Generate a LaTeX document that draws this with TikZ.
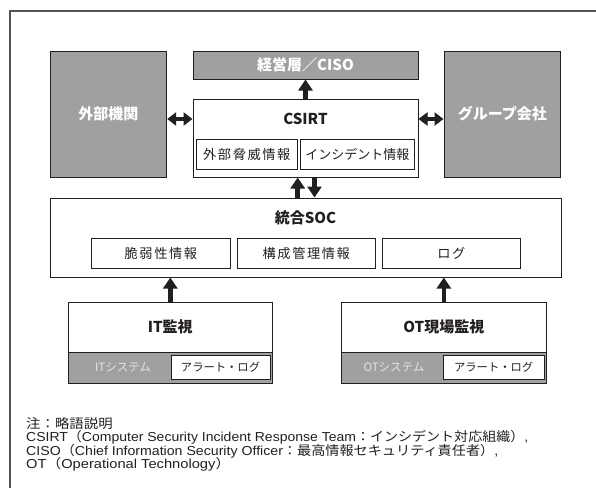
\documentclass[tikz,border=0pt]{standalone}
\usepackage{graphicx}
\usepackage{fontspec}
\setmainfont{Noto Sans CJK JP}
\newfontfamily\jpls[LetterSpace=12]{Noto Sans CJK JP}
\newfontfamily\latf{Liberation Sans}
\newcommand\NoteL[1]{{\latf\fontsize{13}{13}\selectfont #1}}
\newcommand\NoteJ[1]{{\fontsize{13}{13}\selectfont #1}}
\usetikzlibrary{arrows.meta}
\definecolor{ink}{HTML}{231F20}
\definecolor{boxgrey}{HTML}{A0A0A0}
\definecolor{framec}{HTML}{555555}
\definecolor{systxt}{HTML}{E4E4E4}
\tikzset{
  whitebox/.style={draw=ink, line width=1pt, fill=white, inner sep=0pt, rectangle},
  greybox/.style={draw=ink, line width=1pt, fill=boxgrey, inner sep=0pt, rectangle, text=white, font=\bfseries\fontsize{15}{17}\selectfont},
  subbox/.style={draw=ink, line width=0.8pt, fill=white, inner sep=0pt, rectangle, text=ink, font=\jpls\fontsize{13.2}{15}\selectfont},
  subplain/.style={subbox, font=\fontsize{13}{15}\selectfont},
  alertbox/.style={draw=ink, line width=0.8pt, fill=white, inner sep=0pt, rectangle, text=ink, font=\fontsize{11.3}{13}\selectfont},
  titletext/.style={inner sep=0pt, text=ink, font=\bfseries\fontsize{15}{17}\selectfont},
  systext/.style={inner sep=0pt, text=systxt, font=\fontsize{11.5}{13}\selectfont},
  notetext/.style={inner sep=0pt, text=ink},
  bigarrow/.style={draw=ink, line width=4.5pt, -{Triangle[width=14pt,length=11pt]}},
  dblarrow/.style={draw=ink, line width=4.5pt, {Triangle[width=13pt,length=9pt]}-{Triangle[width=13pt,length=9pt]}},
}
\begin{document}
\begin{tikzpicture}[x=1pt,y=-1pt]
\useasboundingbox (0,0) rectangle (596,488);
\draw[framec, line width=1.2pt] (596,11) -- (10,11) -- (10,488);

% top row
\node[greybox, minimum width=116.7pt, minimum height=126pt] (gaibu) at (108.35,114) {外部機関};
\node[greybox, minimum width=225pt, minimum height=28pt] (keiei) at (305.5,65) {経営層／CISO};
\node[whitebox, minimum width=225pt, minimum height=78pt] (csirt) at (305.5,138) {};
\node[titletext] (csirtt) at (305.5,119) {CSIRT};
\node[subbox, minimum width=100.5pt, minimum height=30pt] (threat) at (246.75,154) {外部脅威情報};
\node[subplain, minimum width=114pt, minimum height=30pt] (incid) at (357.3,154) {インシデント情報};
\node[greybox, minimum width=116.7pt, minimum height=126pt] (group) at (502.35,114) {グループ会社};

% SOC
\node[whitebox, minimum width=511pt, minimum height=79pt] (soc) at (305.5,237.5) {};
\node[titletext] (soct) at (305.5,218) {統合SOC};
\node[subbox, minimum width=138.3pt, minimum height=30pt] (vuln) at (160.85,253) {脆弱性情報};
\node[subbox, minimum width=138.5pt, minimum height=30pt] (conf) at (306.25,253) {構成管理情報};
\node[subbox, minimum width=138.7pt, minimum height=30pt] (log) at (451.35,253) {ログ};

% IT
\node[whitebox, minimum width=204pt, minimum height=81pt] (it) at (170.3,342.5) {};
\node[greybox, minimum width=204pt, minimum height=31pt, anchor=south] (itsys) at (it.south) {};
\node[titletext] (itt) at (170.3,327) {IT監視};
\node[systext] (itsyst) at (123,367.3) {ITシステム};
\node[alertbox, minimum width=99pt, minimum height=24.5pt] (italert) at (220.5,367.2) {アラート・ログ};

% OT
\node[whitebox, minimum width=205.7pt, minimum height=81pt] (ot) at (443.85,342.5) {};
\node[greybox, minimum width=205.7pt, minimum height=31pt, anchor=south] (otsys) at (ot.south) {};
\node[titletext] (ott) at (443.85,327) {OT現場監視};
\node[systext] (otsyst) at (394,367.3) {OTシステム};
\node[alertbox, minimum width=100.7pt, minimum height=24.5pt] (otalert) at (493.65,367.2) {アラート・ログ};

% arrows
\coordinate (upx) at (297.7,0);
\coordinate (dnx) at (314.5,0);
\draw[bigarrow] (csirt.north) -- (keiei.south);
\draw[dblarrow] (gaibu.east |- csirtt) -- (csirt.west |- csirtt);
\draw[dblarrow] (csirt.east |- csirtt) -- (group.west |- csirtt);
\draw[bigarrow] (soc.north -| upx) -- (csirt.south -| upx);
\draw[bigarrow] (csirt.south -| dnx) -- (soc.north -| dnx);
\draw[bigarrow] (it.north) -- (soc.south -| it.north);
\draw[bigarrow] (ot.north) -- (soc.south -| ot.north);

% notes
\node[notetext, anchor=base west] (n1) at (26,428) {\resizebox{86.5pt}{\height}{\NoteJ{注：略語説明}}};
\node[notetext, anchor=base west] (n2) at (26,441.5) {\resizebox{502pt}{\height}{\NoteL{CSIRT}\NoteJ{（}\NoteL{Computer Security Incident Response Team}\NoteJ{：インシデント対応組織）}\NoteL{,}}};
\node[notetext, anchor=base west] (n3) at (26,455) {\resizebox{472pt}{\height}{\NoteL{CISO}\NoteJ{（}\NoteL{Chief Information Security Officer}\NoteJ{：最高情報セキュリティ責任者）}\NoteL{,}}};
\node[notetext, anchor=base west] (n4) at (26,468.5) {\resizebox{204pt}{\height}{\NoteL{OT}\NoteJ{（}\NoteL{Operational Technology}\NoteJ{）}}};
\end{tikzpicture}
\end{document}
